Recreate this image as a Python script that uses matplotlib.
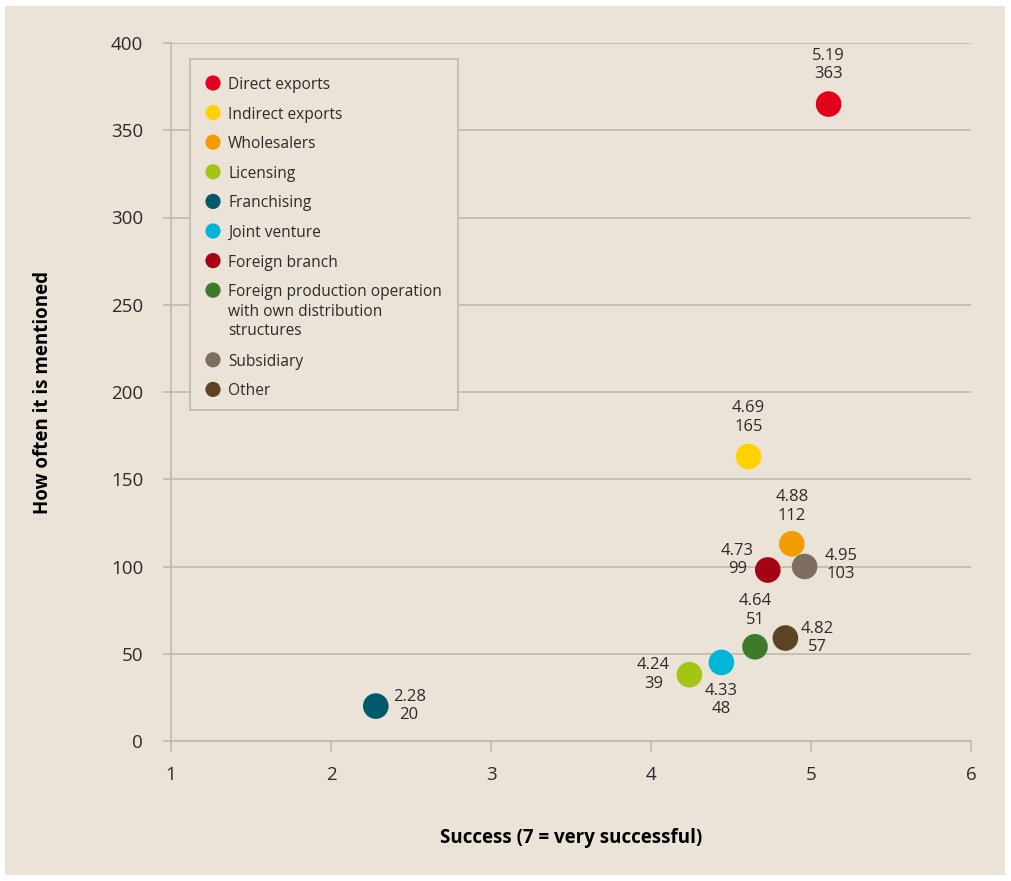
import matplotlib.pyplot as plt
from matplotlib.patches import Rectangle

# modes of market entry
modes = ["Direct exports", "Indirect exports", "Wholesalers", "Licensing",
         "Franchising", "Joint venture", "Foreign branch",
         "Foreign production operation\nwith own distribution\nstructures",
         "Subsidiary", "Other"]
colors = ["#e2001a", "#ffd200", "#f39c00", "#a3c514", "#005a6a",
          "#00b5d6", "#a50014", "#3d7a2c", "#7f6e60", "#5b4324"]

# positions as plotted
success = [5.11, 4.61, 4.88, 4.24, 2.28, 4.44, 4.73, 4.65, 4.96, 4.84]
mentions = [365, 163, 113, 38, 20, 45, 98, 54, 100, 59]

# values printed next to the points
success_lbl = ["5.19", "4.69", "4.88", "4.24", "2.28", "4.33", "4.73", "4.64", "4.95", "4.82"]
mentions_lbl = ["363", "165", "112", "39", "20", "48", "99", "51", "103", "57"]

# label offsets in points (dx, dy)
offs = [(0, 28), (0, 28), (0, 27), (-26, 0), (24, 0),
        (0, -27), (-22, 7), (0, 26), (26, 1), (23, 0)]

bg = "#ebe3d7"
grid = "#c2b8ab"
txt = "#2b2b2b"

plt.rcParams['font.family'] = ['Open Sans', 'DejaVu Sans']

W, H = 1011, 881
fig = plt.figure(figsize=(W / 100, H / 100), dpi=100)
fig.patch.set_facecolor("white")
# beige panel
fig.patches.append(Rectangle((5 / W, 6 / H), 1000 / W, 869 / H,
                             transform=fig.transFigure, facecolor=bg,
                             edgecolor="none", zorder=-10))

ax = fig.add_axes([171 / W, 1 - 741 / H, 800 / W, 698 / H])
ax.set_facecolor(bg)
ax.set_xlim(1, 6)
ax.set_ylim(0, 400)
ax.set_xticks(range(1, 7))
ax.set_yticks(range(0, 401, 50))

for s in ["top", "right"]:
    ax.spines[s].set_visible(False)
for s in ["left", "bottom"]:
    ax.spines[s].set_color(grid)
    ax.spines[s].set_linewidth(1.2)

ax.yaxis.grid(True, color=grid, linewidth=1.2)
ax.set_axisbelow(True)
ax.tick_params(axis="y", length=6, width=1.2, color=grid, pad=14,
               labelsize=13.5, labelcolor=txt)
ax.tick_params(axis="x", length=8, width=1.2, color=grid, pad=10,
               labelsize=13.5, labelcolor=txt)

for i in range(len(modes)):
    ax.scatter(success[i], mentions[i], s=340, color=colors[i],
               edgecolors="none", zorder=3)
    ax.annotate(success_lbl[i] + "\n" + mentions_lbl[i],
                (success[i], mentions[i]), xytext=offs[i],
                textcoords="offset points", ha="center", va="center",
                fontsize=12, color=txt, linespacing=1.2)

ax.set_xlabel("Success (7 = very successful)", fontsize=13.5, fontweight="bold",
              color="black", labelpad=32)
ax.set_ylabel("How often it is mentioned", fontsize=13.5, fontweight="bold",
              color="black", labelpad=42)

# legend box drawn by hand so the markers sit on the first line of each label
def fx(px):
    return (px - 171) / 800

def fy(py):
    return (741 - py) / 698

ax.add_patch(Rectangle((fx(190), fy(410)), fx(458) - fx(190), fy(59) - fy(410),
                       transform=ax.transAxes, facecolor=bg, edgecolor=grid,
                       linewidth=1.2, zorder=4))
row_y = 83
for i, m in enumerate(modes):
    ax.scatter(fx(213), fy(row_y), s=120, color=colors[i], edgecolors="none",
               transform=ax.transAxes, zorder=5, clip_on=False)
    ax.text(fx(228), fy(row_y - 6), m, transform=ax.transAxes, fontsize=11.2,
            color=txt, ha="left", va="top", linespacing=1.3, zorder=5)
    row_y += 29.6 + 20 * m.count("\n")

fig.savefig("out.png", dpi=100, facecolor=fig.get_facecolor())
